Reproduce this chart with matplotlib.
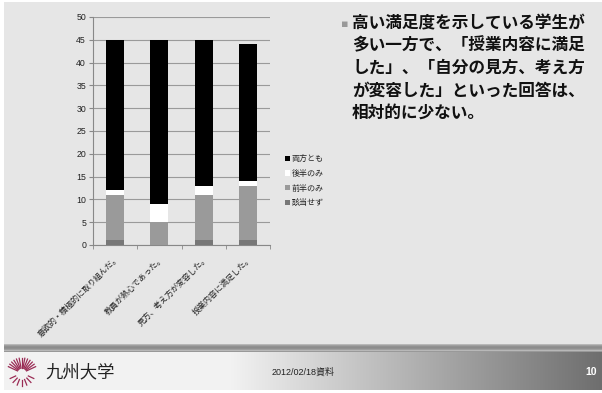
import numpy as np
import matplotlib.pyplot as plt

plt.rcParams['font.family'] = ['Noto Sans CJK JP', 'DejaVu Sans']

categories = ['意欲的・積極的に取り組んだ。', '教員が熱心であった。',
              '見方、考え方が変容した。', '授業内容に満足した。']
series_names = ['該当せず', '前半のみ', '後半のみ', '両方とも']
none_vals = [1, 0, 1, 1]
first_vals = [10, 5, 10, 12]
second_vals = [1, 4, 2, 1]
both_vals = [33, 36, 32, 30]
colors = ['#777777', '#9a9a9a', '#ffffff', '#000000']

W, H = 602, 393
fig = plt.figure(figsize=(W / 100, H / 100), dpi=100)
fig.patch.set_facecolor('white')

# slide background + footer, drawn in pixel coordinates
bg = fig.add_axes([0, 0, 1, 1], zorder=-1)
bg.set_xlim(0, W)
bg.set_ylim(H, 0)
bg.axis('off')
img = np.ones((H, W, 3))
img[2:390, 4:W] = 0.902
# shadow line above footer
for i, y in enumerate(range(343, 352)):
    t = i / 8
    v = 0.902 - 0.35 * np.sin(np.pi * t) ** 0.7 if t < 0.9 else 0.6
    img[y, 4:W] = v
# footer horizontal gradient
xs = np.arange(4, W)
grad = np.clip((xs - 230) / (W - 230), 0, 1)
row = 0.95 - 0.52 * grad
for y in range(352, 390):
    img[y, 4:W] = row[:, None]
bg.imshow(img, extent=(0, W, H, 0), aspect='auto', interpolation='bilinear')

# logo approximation
cx, cy = 22, 373
for a in np.linspace(25, 155, 13):
    r = np.radians(a)
    bg.plot([cx + 5 * np.cos(r), cx + 15 * np.cos(r)],
            [cy - 5 * np.sin(r), cy - 15 * np.sin(r)], color='#9a2c55', lw=0.9)
for a in np.linspace(205, 335, 7):
    r = np.radians(a)
    bg.plot([cx + 7 * np.cos(r), cx + 13 * np.cos(r)],
            [cy - 7 * np.sin(r), cy - 13 * np.sin(r)], color='#9a2c55', lw=0.9)
bg.text(45, 372, '九州大学', fontsize=12.5, va='center', ha='left', color='#222222')
bg.text(272, 372, '2012/02/18資料', fontsize=6.5, va='center', ha='left',
        color='#222222', family=['Liberation Sans', 'Noto Sans CJK JP'])
bg.text(597, 372, '10', fontsize=7.5, va='center', ha='right', color='white',
        fontweight='bold', family='Liberation Sans')

# bullet text
bg.text(341, 24, '▪', fontsize=8, color='#999999', va='center', ha='left',
        family='DejaVu Sans')
body = ('高い満足度を示している学生が\n多い一方で、「授業内容に満足\nした」、「自分の見方、考え方\n'
        'が変容した」といった回答は、\n相対的に少ない。')
bg.text(352, 14, body, fontsize=12, va='top', ha='left', linespacing=1.32,
        color='#111111', fontweight='bold')

# chart
ax = fig.add_axes([93 / W, 1 - 245 / H, 177 / W, 228 / H])
ax.set_facecolor('none')
x = np.arange(len(categories))
bottom = np.zeros(len(categories))
bars = []
for vals, name, c in zip([none_vals, first_vals, second_vals, both_vals], series_names, colors):
    b = ax.bar(x, vals, width=0.41, bottom=bottom, color=c, label=name, zorder=3)
    bars.append(b)
    bottom += np.array(vals)

ax.set_xlim(-0.5, len(categories) - 0.5)
ax.set_ylim(0, 50)
ax.set_yticks(range(0, 51, 5))
ax.yaxis.grid(True, color='#9a9a9a', lw=0.8, zorder=0)
ax.set_axisbelow(True)
for s in ['top', 'right']:
    ax.spines[s].set_visible(False)
for s in ['left', 'bottom']:
    ax.spines[s].set_color('#888888')
    ax.spines[s].set_linewidth(0.8)
ax.tick_params(axis='y', labelsize=6.3, length=3, color='#888888', pad=2,
               labelcolor='#222222')
for t in ax.get_yticklabels():
    t.set_family('Liberation Sans')
ax.set_xticks(x)
ax.set_xticklabels(categories, rotation=45, ha='right', rotation_mode='anchor',
                   fontsize=5.8, color='#222222')
ax.tick_params(axis='x', length=0, pad=6)
ax.set_xticks(np.arange(-0.5, len(categories), 1), minor=True)
ax.tick_params(axis='x', which='minor', length=3, color='#888888')

ax.legend(bars[::-1], series_names[::-1], loc='upper left',
          bbox_to_anchor=(282 / W, 1 - 151 / H), bbox_transform=fig.transFigure,
          frameon=False, fontsize=5.8, handlelength=0.6, handleheight=0.6,
          handletextpad=0.2, labelspacing=0.7, borderaxespad=0,
          labelcolor='#222222')

fig.savefig('out.png', dpi=100)
